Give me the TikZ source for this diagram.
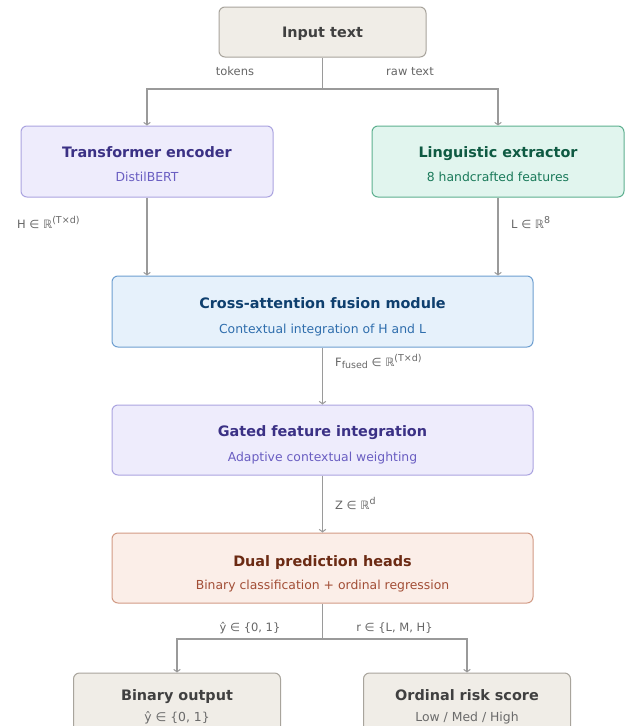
\documentclass[tikz,border=0pt]{standalone}
\usepackage{fontspec}
\setmainfont{DejaVu Sans}
\usetikzlibrary{arrows.meta}
\definecolor{begfill}{HTML}{F0EDE7}
\definecolor{begdraw}{HTML}{A8A49C}
\definecolor{begtit}{HTML}{404040}
\definecolor{begsub}{HTML}{6B6B6B}
\definecolor{lavfill}{HTML}{EEECFC}
\definecolor{lavdraw}{HTML}{ABA4E0}
\definecolor{lavtit}{HTML}{3B3185}
\definecolor{lavsub}{HTML}{6A5EC2}
\definecolor{grnfill}{HTML}{E1F5EE}
\definecolor{grndraw}{HTML}{5DB08F}
\definecolor{grntit}{HTML}{0E5A42}
\definecolor{grnsub}{HTML}{1A7A5A}
\definecolor{blufill}{HTML}{E6F1FB}
\definecolor{bludraw}{HTML}{6E9FD0}
\definecolor{blutit}{HTML}{0E3F6E}
\definecolor{blusub}{HTML}{2F6EAD}
\definecolor{pchfill}{HTML}{FBEEE8}
\definecolor{pchdraw}{HTML}{D29B85}
\definecolor{pchtit}{HTML}{6B2A13}
\definecolor{pchsub}{HTML}{A24E36}
\definecolor{linec}{HTML}{9A9A9A}
\definecolor{lblc}{HTML}{666666}
\newcommand{\mysup}[1]{\raisebox{0.42em}{\fontsize{9.5}{9.5}\selectfont #1}}
\newcommand{\mysub}[1]{\raisebox{-0.25em}{\fontsize{9.5}{9.5}\selectfont #1}}
\tikzset{
  box/.style={draw, rounded corners=6, line width=1, inner sep=0},
  title/.style={font=\fontsize{14.4}{17}\selectfont\bfseries, inner sep=0, anchor=base},
  sub/.style={font=\fontsize{12.4}{15}\selectfont, inner sep=0, anchor=base},
  lbl/.style={font=\fontsize{11.5}{14}\selectfont, text=lblc, inner sep=0, anchor=base},
  wire/.style={draw=linec, line width=1.4},
  conn/.style={wire, -{Straight Barb[length=2.5, width=6.5, line width=1]}},
}
\begin{document}
\begin{tikzpicture}[x=1pt,y=-1pt]
\useasboundingbox[fill=white] (0,0) rectangle (638,726);

% boxes
\node[box, fill=begfill, draw=begdraw, minimum width=207, minimum height=50] (inp) at (322.5,32) {};
\node[box, fill=lavfill, draw=lavdraw, minimum width=252, minimum height=71] (enc) at (147,161.5) {};
\node[box, fill=grnfill, draw=grndraw, minimum width=252, minimum height=71] (ling) at (498,161.5) {};
\node[box, fill=blufill, draw=bludraw, minimum width=421, minimum height=71] (fus) at (322.5,311.5) {};
\node[box, fill=lavfill, draw=lavdraw, minimum width=421, minimum height=70] (gate) at (322.5,440) {};
\node[box, fill=pchfill, draw=pchdraw, minimum width=421, minimum height=70] (dual) at (322.5,568) {};
\node[box, fill=begfill, draw=begdraw, minimum width=207, minimum height=64] (bin) at (177,705) {};
\node[box, fill=begfill, draw=begdraw, minimum width=207, minimum height=64] (ord) at (467,705) {};

% texts
\node[title, text=begtit] (inpT) at (322.5,37.5) {Input text};
\node[title, text=lavtit] (encT) at (147,157.5) {Transformer encoder};
\node[sub, text=lavsub] (encS) at (147,181.5) {DistilBERT};
\node[title, text=grntit] (lingT) at (498,157.5) {Linguistic extractor};
\node[sub, text=grnsub] (lingS) at (498,181.5) {8 handcrafted features};
\node[title, text=blutit] (fusT) at (322.5,308) {Cross-attention fusion module};
\node[sub, text=blusub] (fusS) at (322.5,333) {Contextual integration of H and L};
\node[title, text=lavtit] (gateT) at (322.5,436) {Gated feature integration};
\node[sub, text=lavsub] (gateS) at (322.5,461.5) {Adaptive contextual weighting};
\node[title, text=pchtit] (dualT) at (322.5,566) {Dual prediction heads};
\node[sub, text=pchsub] (dualS) at (322.5,589.5) {Binary classification + ordinal regression};
\node[title, text=begtit] (binT) at (177,700) {Binary output};
\node[sub, text=begsub] (binS) at (177,721.5) {ŷ ∈ \{0, 1\}};
\node[title, text=begtit] (ordT) at (467,700) {Ordinal risk score};
\node[sub, text=begsub] (ordS) at (467,721.5) {Low / Med / High};

% connectors
\coordinate (split1) at (322.5,89);
\coordinate (split2) at (322.5,639);
\draw[wire] (inp.south) -- (split1);
\draw[conn] (split1) -| (enc.north);
\draw[conn] (split1) -| (ling.north);
\draw[conn] (enc.south) -- (enc.south |- fus.north);
\draw[conn] (ling.south) -- (ling.south |- fus.north);
\draw[conn] (fus.south) -- (gate.north);
\draw[conn] (gate.south) -- (dual.north);
\draw[wire] (dual.south) -- (split2);
\draw[conn] (split2) -| (bin.north);
\draw[conn] (split2) -| (ord.north);

% labels
\node[lbl] (lTok) at (235,75.5) {tokens};
\node[lbl] (lRaw) at (410,75.5) {raw text};
\node[lbl, anchor=base west] (lH) at (17,228.5) {H ∈ ℝ\mysup{(T×d)}};
\node[lbl, anchor=base west] (lL) at (511,228.5) {L ∈ ℝ\mysup{8}};
\node[lbl, anchor=base west] (lF) at (335,366) {F\mysub{fused} ∈ ℝ\mysup{(T×d)}};
\node[lbl, anchor=base west] (lZ) at (335,509) {Z ∈ ℝ\mysup{d}};
\node[lbl] (lY) at (250,631.5) {ŷ ∈ \{0, 1\}};
\node[lbl] (lR) at (394.5,631.5) {r ∈ \{L, M, H\}};
\end{tikzpicture}
\end{document}
